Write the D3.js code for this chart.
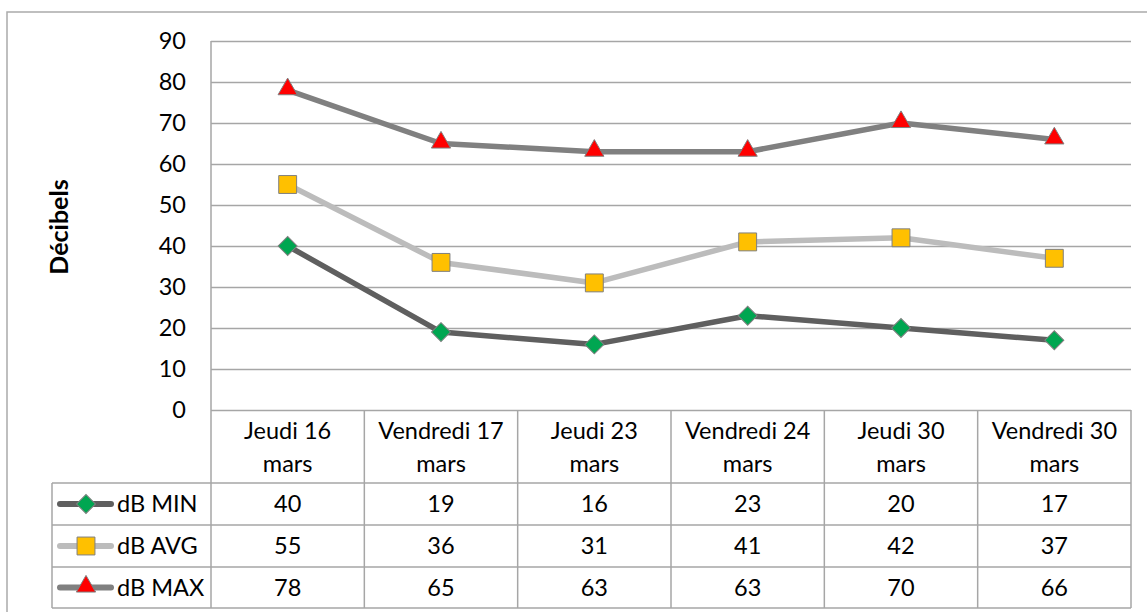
<!DOCTYPE html>
<html>
<head>
<meta charset="utf-8">
<script src="https://cdn.jsdelivr.net/npm/d3@7"></script>
<style>
  body { margin: 0; background: #fff; }
  svg text { font-family: Lato, "Open Sans", sans-serif; fill: #000; }
</style>
</head>
<body>
<svg id="viz" width="1147" height="612"></svg>
<script>
// chart data
var categories = [
  ["Jeudi 16", "mars"],
  ["Vendredi 17", "mars"],
  ["Jeudi 23", "mars"],
  ["Vendredi 24", "mars"],
  ["Jeudi 30", "mars"],
  ["Vendredi 30", "mars"]
];
var minValues = [40, 19, 16, 23, 20, 17];
var avgValues = [55, 36, 31, 41, 42, 37];
var maxValues = [78, 65, 63, 63, 70, 66];
var seriesNames = ["dB MIN", "dB AVG", "dB MAX"];
var yTicks = [0, 10, 20, 30, 40, 50, 60, 70, 80, 90];

window.onload = function () {
  var svg = d3.select("#viz");
  var left = 211, right = 1131, top = 41, bottom = 410;
  var tableLeft = 52;
  var rowTops = [483, 525, 567, 608];
  var gridColor = "#a6a6a6";
  var fs = 23.5;

  // outer frame, runs off the page on right and bottom like the screenshot
  svg.append("rect")
    .attr("x", 7).attr("y", 12)
    .attr("width", 1160).attr("height", 620)
    .attr("fill", "none").attr("stroke", "#ababab").attr("stroke-width", 1.5);

  var x = d3.scaleBand()
    .domain(categories.map(function (d, i) { return i; }))
    .range([left, right]);
  var y = d3.scaleLinear().domain([0, 90]).range([bottom, top]);

  // gridlines + y tick labels
  var yAxis = d3.axisLeft(y)
    .tickValues(yTicks)
    .tickSize(-(right - left))
    .tickPadding(25);
  var ga = svg.append("g").attr("transform", "translate(" + left + ",0)").call(yAxis);
  ga.select(".domain").remove();
  ga.selectAll(".tick line").attr("stroke", gridColor).attr("stroke-width", 1.5);
  ga.selectAll(".tick text")
    .attr("font-size", fs)
    .style("font-family", "Lato, 'Open Sans', sans-serif")
    .attr("fill", "#000");

  // axis line on the left
  svg.append("line")
    .attr("x1", left).attr("x2", left).attr("y1", top).attr("y2", bottom)
    .attr("stroke", gridColor).attr("stroke-width", 1.5);

  // y title
  svg.append("text")
    .attr("transform", "translate(68,227) rotate(-90)")
    .attr("text-anchor", "middle")
    .attr("font-size", 25)
    .attr("font-weight", "bold")
    .text("Décibels");

  // data table lines
  var t = svg.append("g").attr("stroke", gridColor).attr("stroke-width", 1.5);
  rowTops.forEach(function (ry) {
    t.append("line").attr("x1", tableLeft).attr("x2", right).attr("y1", ry).attr("y2", ry);
  });
  d3.range(categories.length + 1).forEach(function (i) {
    var cx = i < categories.length ? x(i) : right;
    t.append("line").attr("x1", cx).attr("x2", cx).attr("y1", bottom).attr("y2", rowTops[3]);
  });
  t.append("line").attr("x1", tableLeft).attr("x2", tableLeft).attr("y1", rowTops[0]).attr("y2", rowTops[3]);

  // category labels
  categories.forEach(function (c, i) {
    var tx = svg.append("text")
      .attr("x", x(i) + x.bandwidth() / 2)
      .attr("text-anchor", "middle")
      .attr("font-size", fs);
    tx.append("tspan").attr("x", x(i) + x.bandwidth() / 2).attr("y", 439).text(c[0]);
    tx.append("tspan").attr("x", x(i) + x.bandwidth() / 2).attr("y", 472).text(c[1]);
  });

  var series = [
    { name: seriesNames[0], values: minValues, line: "#5f5f5f", fill: "#00a651", shape: "diamond" },
    { name: seriesNames[1], values: avgValues, line: "#bcbcbc", fill: "#ffc000", shape: "square" },
    { name: seriesNames[2], values: maxValues, line: "#808080", fill: "#ff0000", shape: "triangle" }
  ];

  function marker(g, s) {
    var p;
    if (s.shape === "diamond") {
      p = g.append("path").attr("d", d3.symbol(d3.symbolSquare, 180)()).attr("transform", "rotate(45)");
    } else if (s.shape === "square") {
      p = g.append("path").attr("d", d3.symbol(d3.symbolSquare, 320)());
    } else {
      p = g.append("path").attr("d", d3.symbol(d3.symbolTriangle, 160)()).attr("transform", "translate(0,-1)");
    }
    p.attr("fill", s.fill).attr("stroke", "#7f7f7f").attr("stroke-width", 1);
  }

  var line = d3.line()
    .x(function (d, i) { return x(i) + x.bandwidth() / 2; })
    .y(function (d) { return y(d); });

  series.forEach(function (s, si) {
    svg.append("path")
      .datum(s.values)
      .attr("d", line)
      .attr("fill", "none")
      .attr("stroke", s.line)
      .attr("stroke-width", 5.5)
      .attr("stroke-linejoin", "round");

    s.values.forEach(function (v, i) {
      var g = svg.append("g")
        .attr("transform", "translate(" + (x(i) + x.bandwidth() / 2) + "," + y(v) + ")");
      marker(g, s);
    });

    // table row
    var rowMid = (rowTops[si] + rowTops[si + 1]) / 2;
    svg.append("line")
      .attr("x1", 60).attr("x2", 111).attr("y1", rowMid).attr("y2", rowMid)
      .attr("stroke", s.line).attr("stroke-width", 6).attr("stroke-linecap", "round");
    var lg = svg.append("g").attr("transform", "translate(86," + rowMid + ")");
    marker(lg, s);
    svg.append("text")
      .attr("x", 117).attr("y", rowMid)
      .attr("dy", "0.35em")
      .attr("font-size", fs)
      .text(s.name);
    s.values.forEach(function (v, i) {
      svg.append("text")
        .attr("x", x(i) + x.bandwidth() / 2)
        .attr("y", rowMid)
        .attr("dy", "0.35em")
        .attr("text-anchor", "middle")
        .attr("font-size", fs)
        .text(v);
    });
  });
};
</script>
</body>
</html>
